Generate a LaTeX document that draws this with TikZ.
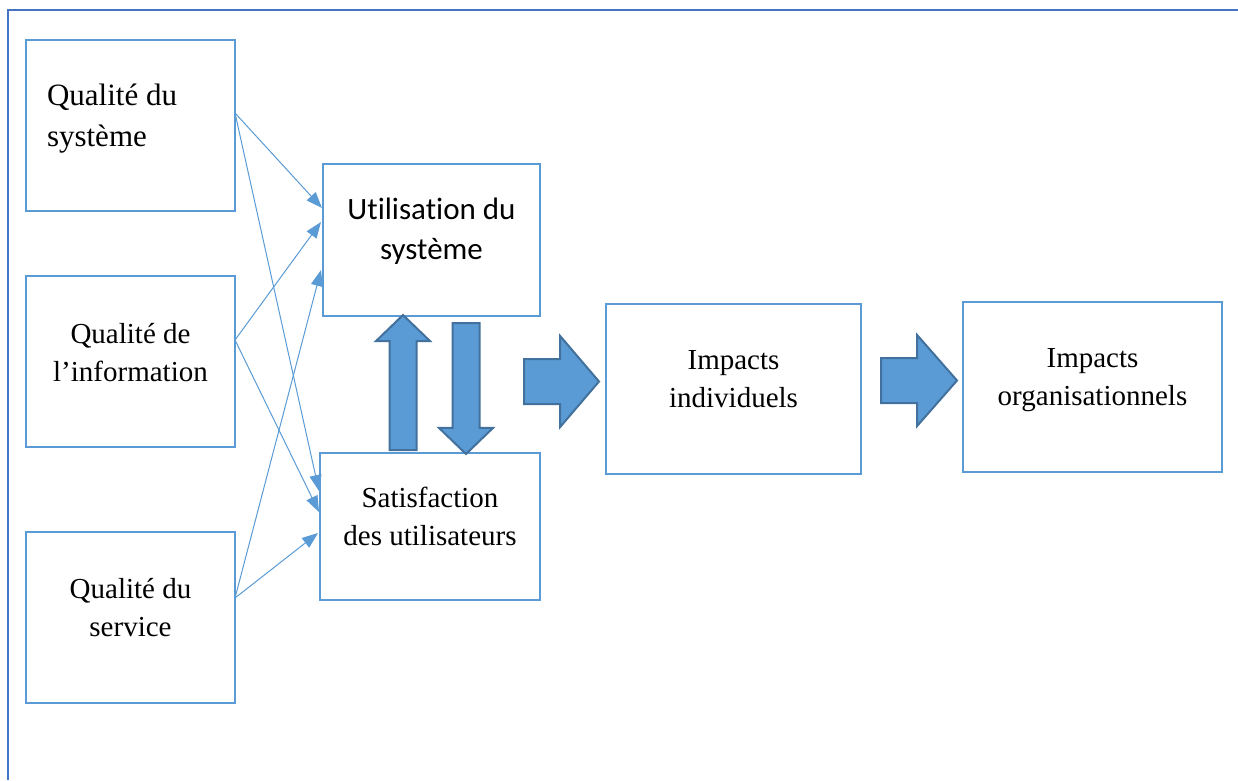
\documentclass[tikz,border=0pt]{standalone}
\usepackage{fontspec}
\setmainfont{Liberation Serif}
\newfontfamily\calibrilike[Ligatures={NoCommon}]{Carlito}
\usetikzlibrary{arrows.meta,shapes.arrows,calc}

\definecolor{boxblue}{HTML}{5B9BD5}
\definecolor{frameblue}{HTML}{4472C4}
\definecolor{arrowfill}{HTML}{5B9BD5}
\definecolor{arrowedge}{HTML}{41719C}

% two stacked lines whose node baseline is the first line
\newcommand{\twolines}[3]{\begin{tabular}[t]{@{}#1@{}}#2\\#3\end{tabular}}

\begin{document}
\begin{tikzpicture}[x=1pt,y=-1pt,
  box/.style={draw=boxblue, line width=1.5pt, inner sep=0pt, outer sep=0pt, anchor=north west},
  boxtext/.style={inner sep=0pt, outer sep=0pt, anchor=base, font=\fontsize{29}{38}\selectfont},
  feed/.style={draw=boxblue, line width=1pt, -{Triangle[length=16pt,width=12pt]}},
  fatarrow/.style={single arrow, draw=arrowedge, fill=arrowfill, line width=2pt,
    inner sep=0pt, outer sep=0pt, anchor=tail, text depth=0pt}
]
\fill[white] (0,0) rectangle (1238,780);
\useasboundingbox (0,0) rectangle (1238,780);

% page frame
\draw[frameblue, line width=2pt] (1238,10) -- (8,10) -- (8,780);

% boxes
\node[box, minimum width=209pt, minimum height=171pt] (qs)  at (26,40)  {};
\node[box, minimum width=209pt, minimum height=171pt] (qi)  at (26,276) {};
\node[box, minimum width=209pt, minimum height=171pt] (qsv) at (26,532) {};
\node[box, minimum width=217pt, minimum height=152pt] (u)   at (323,164) {};
\node[box, minimum width=220pt, minimum height=147pt] (s)   at (320,453) {};
\node[box, minimum width=255pt, minimum height=170pt] (ii)  at (606,304) {};
\node[box, minimum width=259pt, minimum height=170pt] (io)  at (963,302) {};

% box texts
\node[boxtext, anchor=base west, font=\fontsize{31}{41}\selectfont] (qs-t) at (47,105)
  {\twolines{l}{Qualité du}{système}};
\node[boxtext] (qi-t)  at (130.5,343) {\twolines{c}{Qualité de}{l’information}};
\node[boxtext] (qsv-t) at (130.5,598) {\twolines{c}{Qualité du}{service}};
\node[boxtext, font=\calibrilike\fontsize{31}{40}\selectfont] (u-t) at (431.5,219)
  {\twolines{c}{Utilisation du}{système}};
\node[boxtext] (s-t)  at (430,507)    {\twolines{c}{Satisfaction}{des utilisateurs}};
\node[boxtext] (ii-t) at (733.5,369)  {\twolines{c}{Impacts}{individuels}};
\node[boxtext] (io-t) at (1092.5,367) {\twolines{c}{Impacts}{organisationnels}};

% attachment points of the thin arrows
\coordinate (qs-o)  at ($(qs.north east)+(0,73)$);
\coordinate (qi-o)  at ($(qi.north east)+(0,64)$);
\coordinate (qsv-o) at ($(qsv.north east)+(0,66)$);
\coordinate (u-i1)  at ($(u.north west)+(-1,44)$);
\coordinate (u-i2)  at ($(u.north west)+(-2,58)$);
\coordinate (u-i3)  at ($(u.north west)+(-2,106)$);
\coordinate (s-i1)  at ($(s.north west)+(-1,38)$);
\coordinate (s-i2)  at ($(s.north west)+(-1,59)$);
\coordinate (s-i3)  at ($(s.north west)+(-2,80)$);

\draw[feed] (qs-o)  -- (u-i1);
\draw[feed] (qs-o)  -- (s-i1);
\draw[feed] (qi-o)  -- (u-i2);
\draw[feed] (qi-o)  -- (s-i2);
\draw[feed] (qsv-o) -- (u-i3);
\draw[feed] (qsv-o) -- (s-i3);

% block arrows
\node[fatarrow, rotate=90, text height=25pt, minimum height=135pt, minimum width=52pt,
  single arrow head extend=13.5pt, single arrow tip angle=92]
  (s-to-u) at ($(s.north west)+(83,-3)$) {};
\node[fatarrow, rotate=-90, text height=25pt, minimum height=131pt, minimum width=52pt,
  single arrow head extend=13.5pt, single arrow tip angle=92]
  (u-to-s) at ($(u.south west)+(143,7)$) {};
\node[fatarrow, text height=43pt, minimum height=75pt, minimum width=89pt,
  single arrow head extend=23pt, single arrow tip angle=99]
  (to-ii) at ($(ii.west)+(-82,-7.5)$) {};
\node[fatarrow, text height=43pt, minimum height=76pt, minimum width=89pt,
  single arrow head extend=23pt, single arrow tip angle=97.5]
  (to-io) at ($(io.west)+(-82,-6.5)$) {};
\end{tikzpicture}
\end{document}
